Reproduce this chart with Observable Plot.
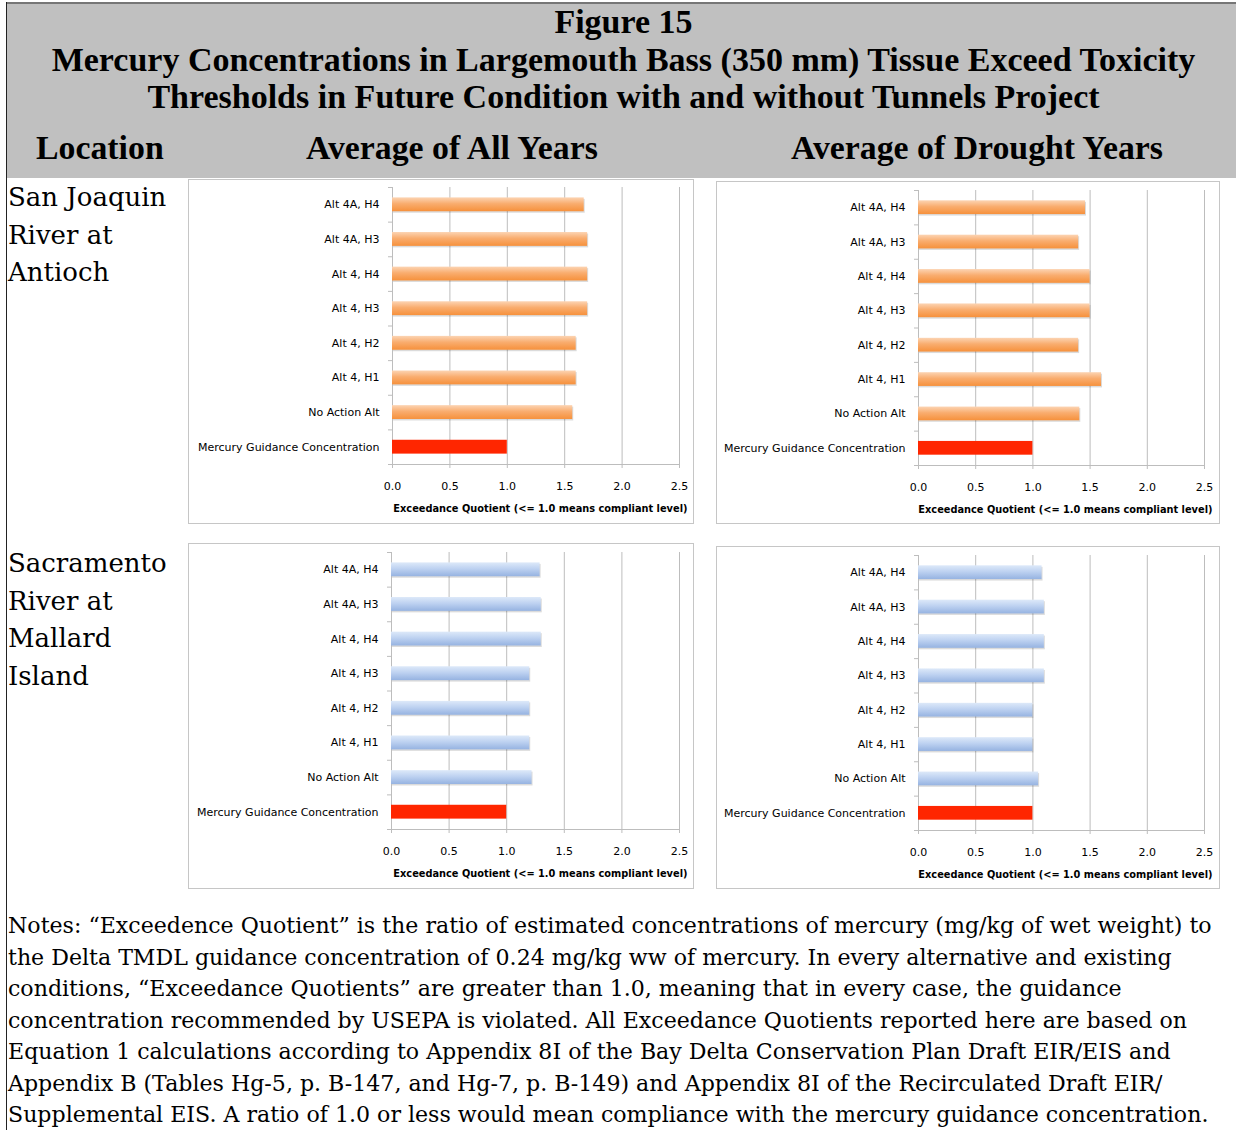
<!DOCTYPE html>
<html>
<head>
<meta charset="utf-8">
<script src="https://cdn.jsdelivr.net/npm/d3@7"></script>
<script src="https://cdn.jsdelivr.net/npm/@observablehq/plot@0.6"></script>
<style>
  body { margin: 0; background: #fff; }
  #page { position: relative; width: 1236px; height: 1130px; overflow: hidden; background: #fff; }
  #header { position: absolute; left: 7px; top: 2px; width: 1229px; height: 176px; background: #c0c0c0; border-top: 2px solid #767676; box-sizing: border-box; }
  #leftline { position: absolute; left: 6px; top: 2px; width: 1px; height: 1128px; background: #222; }
  .hd { position: absolute; font-family: "Liberation Serif", serif; font-weight: bold; font-size: 34px; line-height: 34px; color: #000; white-space: nowrap; }
  .title { left: 7px; width: 1233px; text-align: center; }
  .colhd { font-size: 33.8px; line-height: 34px; }
  .loc { position: absolute; left: 8px; font-family: "DejaVu Serif", serif; font-size: 26px; line-height: 37.5px; color: #000; white-space: nowrap; }
  .panel { position: absolute; border: 1px solid #c6c6c6; background: #fff; }
  .panel svg { display: block; }
  #notes { position: absolute; left: 8px; top: 910px; font-family: "DejaVu Serif", serif; font-size: 22.1px; line-height: 31.5px; color: #000; white-space: nowrap; }
</style>
</head>
<body>
<div id="page">
  <div id="header"></div>
  <div id="leftline"></div>
  <div id="titles"></div>
  <div id="panels"></div>
  <div id="notes"></div>
</div>
<script>
// ---------------- data ----------------
const figureTitle = "Figure 15";
const titleLines = [
  "Mercury Concentrations in Largemouth Bass (350 mm) Tissue Exceed Toxicity",
  "Thresholds in Future Condition with and without Tunnels Project"
];
const columnHeaders = ["Location", "Average of All Years", "Average of Drought Years"];
const locationSanJoaquin = ["San Joaquin", "River at", "Antioch"];
const locationSacramento = ["Sacramento", "River at", "Mallard", "Island"];

const categories = [
  "Alt 4A, H4", "Alt 4A, H3", "Alt 4, H4", "Alt 4, H3",
  "Alt 4, H2", "Alt 4, H1", "No Action Alt", "Mercury Guidance Concentration"
];
const sanJoaquinAllYears = [1.67, 1.70, 1.70, 1.70, 1.60, 1.60, 1.57, 1.00];
const sanJoaquinDrought  = [1.46, 1.40, 1.50, 1.50, 1.40, 1.60, 1.41, 1.00];
const sacramentoAllYears = [1.29, 1.30, 1.30, 1.20, 1.20, 1.20, 1.22, 1.00];
const sacramentoDrought  = [1.08, 1.10, 1.10, 1.10, 1.00, 1.00, 1.05, 1.00];
const guidanceCategory = "Mercury Guidance Concentration";
const xTicks = [0, 0.5, 1.0, 1.5, 2.0, 2.5];
const xAxisLabel = "Exceedance Quotient (<= 1.0 means compliant level)";

const notesLines = [
  "Notes: \u201cExceedence Quotient\u201d is the ratio of estimated concentrations of mercury (mg/kg of wet weight) to",
  "the Delta TMDL guidance concentration of 0.24 mg/kg ww of mercury. In every alternative and existing",
  "conditions, \u201cExceedance Quotients\u201d are greater than 1.0, meaning that in every case, the guidance",
  "concentration recommended by USEPA is violated. All Exceedance Quotients reported here are based on",
  "Equation 1 calculations according to Appendix 8I of the Bay Delta Conservation Plan Draft EIR/EIS and",
  "Appendix B (Tables Hg-5, p. B-147, and Hg-7, p. B-149) and Appendix 8I of the Recirculated Draft EIR/",
  "Supplemental EIS. A ratio of 1.0 or less would mean compliance with the mercury guidance concentration."
];

// ---------------- styles ----------------
const orangeStops = [[0, "#fcd4b3"], [0.45, "#f9ad6f"], [1, "#f6913c"]];
const blueStops = [[0, "#dde9f9"], [0.45, "#bed2f1"], [1, "#96b3e1"]];
const guidanceColor = "#ff2600";
const gridColor = "#bdbdbd";

// ---------------- header text ----------------
const titles = document.getElementById("titles");
function addDiv(parent, cls, text, css) {
  const d = document.createElement("div");
  d.className = cls;
  d.textContent = text;
  Object.assign(d.style, css);
  parent.appendChild(d);
  return d;
}
addDiv(titles, "hd title", figureTitle, {top: "5px"});
addDiv(titles, "hd title", titleLines[0], {top: "43px"});
addDiv(titles, "hd title", titleLines[1], {top: "80px"});
const colLefts = [36, 306, 791];
columnHeaders.forEach((t, i) => addDiv(titles, "hd colhd", t, {top: "131px", left: colLefts[i] + "px"}));

const loc1 = addDiv(titles, "loc", "", {top: "179px"});
loc1.innerHTML = locationSanJoaquin.join("<br>");
const loc2 = addDiv(titles, "loc", "", {top: "545px"});
loc2.innerHTML = locationSacramento.join("<br>");

const notes = document.getElementById("notes");
notes.innerHTML = notesLines.map(l => l.replace(/&/g, "&amp;").replace(/</g, "&lt;")).join("<br>");

// ---------------- charts ----------------
function barChart(values, stops, gradId, g) {
  const data = categories.map((c, i) => ({category: c, value: values[i]}));
  const normal = data.filter(d => d.category !== guidanceCategory);
  const guidance = data.filter(d => d.category === guidanceCategory);
  const step = (g.height - g.mt - g.mb) / categories.length;
  const defs = () => {
    const d = d3.create("svg:defs");
    const lg = d.append("linearGradient").attr("id", gradId)
      .attr("x1", 0).attr("y1", 0).attr("x2", 0).attr("y2", 1);
    stops.forEach(([o, c]) => lg.append("stop").attr("offset", o).attr("stop-color", c));
    return d.node();
  };
  return Plot.plot({
    width: g.width, height: g.height,
    marginTop: g.mt, marginBottom: g.mb, marginLeft: g.ml, marginRight: g.mr,
    style: {fontFamily: "DejaVu Sans, sans-serif", fontSize: "11px", color: "#000", background: "#fff"},
    x: {domain: [0, 2.5]},
    y: {domain: categories, paddingInner: 0.6, paddingOuter: 0.3, round: false},
    marks: [
      defs,
      Plot.gridX(xTicks, {stroke: gridColor, strokeOpacity: 1}),
      Plot.ruleX([0], {stroke: gridColor}),
      Plot.ruleY(categories, {y: d => d, x1: 0, x2: 0, insetLeft: -4, dy: -step / 2, stroke: gridColor}),
      Plot.ruleY([categories[categories.length - 1]], {y: d => d, x1: 0, x2: 2.5, insetLeft: -4, dy: step / 2, stroke: gridColor}),
      Plot.barX(normal, {y: "category", x: "value", fill: "#000", fillOpacity: 0.14, dx: 1, dy: 1.5}),
      Plot.barX(normal, {y: "category", x: "value", fill: `url(#${gradId})`}),
      Plot.barX(guidance, {y: "category", x: "value", fill: guidanceColor}),
      Plot.axisX(xTicks, {tickSize: 4, tickPadding: 14, stroke: gridColor, tickFormat: d3.format(".1f"), label: null, fontSize: 11}),
      Plot.axisY({tickSize: 0, tickPadding: 13, label: null}),
      Plot.text([xAxisLabel], {frameAnchor: "bottom-right", lineAnchor: "middle", textAnchor: "end", dy: 44, dx: 8, fontWeight: "bold", fontSize: 9.8})
    ]
  });
}

const panelLayout = [
  {values: sanJoaquinAllYears, stops: orangeStops, id: "gTL", left: 188, top: 179, width: 504, height: 343, ml: 203, mr: 14, mt: 7, mb: 59},
  {values: sanJoaquinDrought,  stops: orangeStops, id: "gTR", left: 716, top: 181, width: 502, height: 341, ml: 201, mr: 15, mt: 8, mb: 58},
  {values: sacramentoAllYears, stops: blueStops,   id: "gBL", left: 188, top: 543, width: 504, height: 344, ml: 202, mr: 14, mt: 8, mb: 59},
  {values: sacramentoDrought,  stops: blueStops,   id: "gBR", left: 716, top: 546, width: 502, height: 341, ml: 201, mr: 15, mt: 8, mb: 58}
];
const panels = document.getElementById("panels");
panelLayout.forEach(p => {
  const wrap = document.createElement("div");
  wrap.className = "panel";
  wrap.style.left = p.left + "px";
  wrap.style.top = p.top + "px";
  wrap.appendChild(barChart(p.values, p.stops, p.id, p));
  panels.appendChild(wrap);
});
</script>
</body>
</html>
